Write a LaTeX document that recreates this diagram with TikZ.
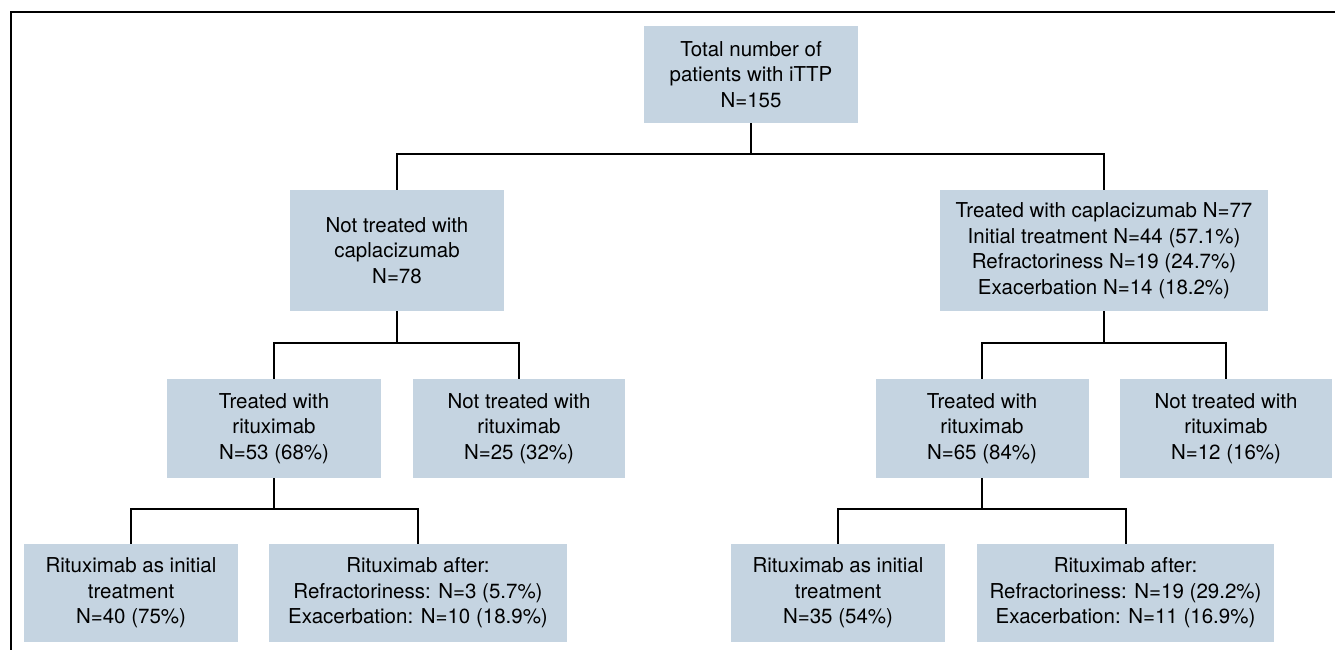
\documentclass[tikz,border=0pt]{standalone}
\usepackage{fontspec}
\setmainfont{TeX Gyre Heros}
\usetikzlibrary{positioning}
\definecolor{boxblue}{RGB}{197,212,225}

\begin{document}
\begin{tikzpicture}[x=1pt,y=-1pt,
    box/.style={fill=boxblue, inner sep=0pt, align=center,
      minimum height=98, font=\fontsize{20.5}{25.5}\selectfont},
    link/.style={line width=2pt}]
  \useasboundingbox (0,0) rectangle (1335,650);

  % Frame
  \draw[line width=2.5pt] (1335,12) -- (11,12) -- (11,650);

  % Boxes
  \node[box, minimum width=214, minimum height=97] (total) at (751,74.5)
    {Total number of\\patients with iTTP\\N=155};
  \node[box, minimum width=214, minimum height=121] (nocap) at (397,250.5)
    {Not treated with\\caplacizumab\\N=78};
  \node[box, minimum width=328, minimum height=121] (withcap) at (1104,250.5)
    {Treated with caplacizumab N=77\\Initial treatment N=44 (57.1\%)\\
     Refractoriness N=19 (24.7\%)\\Exacerbation N=14 (18.2\%)};

  \node[box, minimum width=214, minimum height=99] (ritA) at (274,428.5)
    {Treated with\\rituximab\\N=53 (68\%)};
  \node[box, minimum width=212, minimum height=99] (noritA) at (519,428.5)
    {Not treated with\\rituximab\\N=25 (32\%)};
  \node[box, minimum width=213, minimum height=99] (ritB) at (982,428.5)
    {Treated with\\rituximab\\N=65 (84\%)};
  \node[box, minimum width=212, minimum height=99] (noritB) at (1226,428.5)
    {Not treated with\\rituximab\\N=12 (16\%)};

  \node[box, minimum width=214] (initA) at (131,593)
    {Rituximab as initial\\treatment\\N=40 (75\%)};
  \node[box, minimum width=298] (afterA) at (418,593)
    {Rituximab after:\\Refractoriness: N=3 (5.7\%)\\Exacerbation: N=10 (18.9\%)};
  \node[box, minimum width=214] (initB) at (838,593)
    {Rituximab as initial\\treatment\\N=35 (54\%)};
  \node[box, minimum width=297] (afterB) at (1125.5,593)
    {Rituximab after:\\Refractoriness: N=19 (29.2\%)\\Exacerbation: N=11 (16.9\%)};

  % Junctions
  \coordinate (j0) at (751,154);
  \coordinate (j1) at (397,343);
  \coordinate (j2) at (1104,343);
  \coordinate (j3) at (274,509);
  \coordinate (j4) at (982,509);

  % Connectors
  \draw[link] (total.south) -- (j0);
  \draw[link] (nocap.north) |- (j0) -| (withcap.north);
  \draw[link] (nocap.south) -- (j1);
  \draw[link] (ritA.north) |- (j1) -| (noritA.north);
  \draw[link] (withcap.south) -- (j2);
  \draw[link] (ritB.north) |- (j2) -| (noritB.north);
  \draw[link] (ritA.south) -- (j3);
  \draw[link] (initA.north) |- (j3) -| (afterA.north);
  \draw[link] (ritB.south) -- (j4);
  \draw[link] (initB.north) |- (j4) -| (afterB.north);
\end{tikzpicture}
\end{document}
